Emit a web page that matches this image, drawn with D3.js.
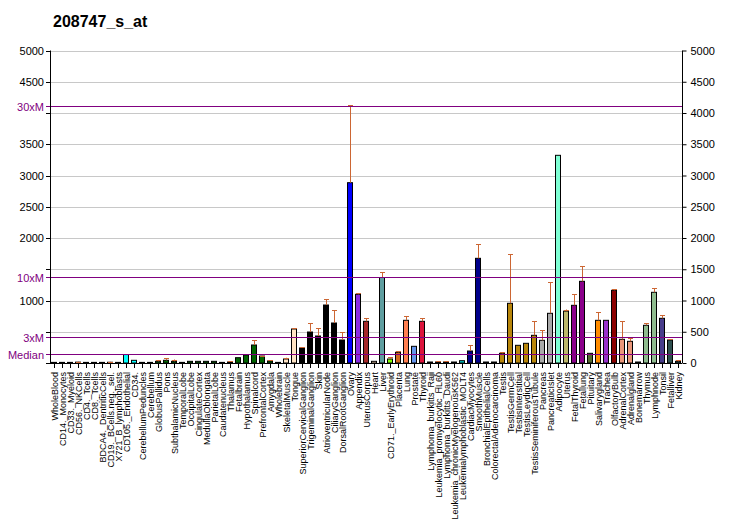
<!DOCTYPE html>
<html><head><meta charset="utf-8">
<script src="https://cdn.jsdelivr.net/npm/d3@7"></script>
<style>body{margin:0;background:#fff}svg{display:block}text{font-family:"Liberation Sans",Arial,sans-serif}</style>
</head><body>
<svg id="c" width="732" height="530"></svg>
<script>
const title = "208747_s_at";
const categories = ["WholeBlood","CD14._Monocytes","CD33._Myeloid","CD56._NKCells","CD4._Tcells","CD8._Tcells","BDCA4._DentriticCells","CD19._BCells.neg._sel.","X721_B_lymphoblasts","CD105._Endothelial","CD34.","CerebellumPeduncles","Cerebellum","GlobusPallidus","Pons","SubthalamicNucleus","TemporalLobe","OccipitalLobe","CingulateCortex","MedullaOblongata","ParietalLobe","Caudatenucleus","Thalamus","Fetalbrain","Hypothalamus","Spinalcord","PrefrontalCortex","Amygdala","Wholebrain","SkeletalMuscle","Tongue","SuperiorCervicalGanglion","TrigeminalGanglion","Skin","AtrioventricularNode","CiliaryGanglion","DorsalRootGanglion","Ovary","Appendix","UterusCorpus","Heart","Liver","CD71._EarlyErythroid","Placenta","Lung","Prostate","Thyroid","Lymphoma_burkitts_Raji","Leukemia_promyelocytic_HL60","Lymphoma_burkitts_Daudi","Leukemia_chronicMyelogenousK562","Leukemialymphoblastic_MOLT4","CardiacMyocytes","SmoothMuscle","BronchialEpithelialCells","ColorectalAdenocarcinoma","Testis","TestisGermCell","TestisInterstitial","TestisLeydigCell","TestisSeminiferousTubule","Pancreas","PancreaticIslet","Adipocyte","Uterus","FetalThyroid","Fetallung","Pituitary","Salivarygland","Trachea","OlfactoryBulb","AdrenalCortex","Adrenalgland","Bonemarrow","Thymus","Lymphnode","Tonsil","Fetalliver","Kidney"];
const values = [10,10,10,14,10,10,10,12,10,135,43,10,10,27,43,27,10,27,27,27,27,10,16,85,128,288,112,32,10,64,544,240,496,432,928,640,368,2885,1099,667,27,1368,64,171,683,267,667,16,16,16,16,37,192,1675,16,16,155,955,283,315,443,363,795,3323,830,923,1307,155,683,683,1163,379,347,16,603,1131,715,368,27];
const errTops = [null,null,null,22,null,null,null,20,null,null,null,null,null,45,75,56,null,null,null,null,null,null,24,null,null,368,120,43,null,84,555,251,640,555,1018,843,491,4123,1115,715,null,1451,91,190,747,null,715,null,27,27,null,null,283,1899,null,null,171,1739,null,null,667,523,1291,null,856,1099,1547,null,811,null,1179,667,395,null,635,1195,763,379,43];
const colors = ["#1a1a1a","#1a1a1a","#1a1a1a","#1a1a1a","#1a1a1a","#1a1a1a","#1a1a1a","#1a1a1a","#1a1a1a","#00FFFF","#00FFFF","#006400","#006400","#006400","#006400","#006400","#006400","#006400","#006400","#006400","#006400","#006400","#006400","#006400","#006400","#006400","#006400","#006400","#006400","#FFE4C4","#FFE4C4","#000000","#000000","#000000","#000000","#000000","#000000","#0000FF","#8A2BE2","#A52A2A","#FFDAB9","#5F9EA0","#7FFF00","#D2691E","#FF7F50","#6495ED","#DC143C","#1a1a1a","#1a1a1a","#1a1a1a","#1a1a1a","#00CED1","#00008B","#00008B","#1a1a1a","#1a1a1a","#B8860B","#B8860B","#B8860B","#B8860B","#B8860B","#A9A9A9","#A9A9A9","#7FFFD4","#BDB76B","#8B008B","#8B008B","#556B2F","#FF8C00","#9932CC","#8B0000","#E9967A","#E9967A","#2F4F4F","#8FBC8F","#8FBC8F","#483D8B","#2F4F4F","#2F4F4F"];
const rightTicks = [0,500,1000,1500,2000,2500,3000,3500,4000,4500,5000];
const leftTickLabels = [5000,4500,3500,3000,2500,2000,1000];
const median = 137;
const multiples = [{k:1,label:"Median"},{k:3,label:"3xM"},{k:10,label:"10xM"},{k:30,label:"30xM"}];

const svg = d3.select("#c");
const x = d3.scaleBand().domain(d3.range(categories.length)).range([50,682]).paddingInner(0.25).paddingOuter(0.125);
const y = d3.scaleLinear().domain([0,5000]).range([363,50.5]);
const L = 50, R = 682;

svg.append("text").attr("x",53).attr("y",27).attr("font-size",16).attr("font-weight","bold").attr("fill","#000").text(title);

// grid
svg.append("g").selectAll("line").data(rightTicks.filter(d=>d>0)).join("line")
  .attr("x1",L-4).attr("x2",R).attr("y1",d=>Math.round(y(d))+0.5).attr("y2",d=>Math.round(y(d))+0.5)
  .attr("stroke","#C8C8C8").attr("stroke-width",1);

// bars
const bw = x.bandwidth();
svg.append("g").selectAll("rect").data(values).join("rect")
  .attr("x",(d,i)=>Math.round(x(i))+0.5).attr("width",Math.round(bw)-1)
  .attr("y",d=>y(d)).attr("height",d=>y(0)-y(d))
  .attr("fill",(d,i)=>colors[i]).attr("stroke","#000").attr("stroke-width",1);

// error bars
const eg = svg.append("g").attr("stroke","#CC6633").attr("stroke-width",1);
errTops.forEach((e,i)=>{
  if(e==null) return;
  const cx = Math.round(x(i)+bw/2)+0.5;
  eg.append("line").attr("x1",cx).attr("x2",cx).attr("y1",y(values[i])).attr("y2",y(e));
  eg.append("line").attr("x1",cx-2.5).attr("x2",cx+2.5).attr("y1",Math.round(y(e))+0.5).attr("y2",Math.round(y(e))+0.5);
});

// median lines
multiples.forEach(m=>{
  const yy = Math.round(y(m.k*median))+0.5;
  svg.append("line").attr("x1",L-4).attr("x2",R).attr("y1",yy).attr("y2",yy).attr("stroke","#800080").attr("stroke-width",1);
  svg.append("text").attr("x",44).attr("y",yy+4).attr("text-anchor","end").attr("font-size",11).attr("fill","#800080").text(m.label);
});

// left axis
const la = svg.append("g");
la.append("line").attr("x1",L+0.5).attr("x2",L+0.5).attr("y1",y(5000)).attr("y2",y(0)).attr("stroke","#000");
la.selectAll("line.t").data(rightTicks).join("line").attr("class","t")
  .attr("x1",L-4).attr("x2",L).attr("y1",d=>Math.round(y(d))+0.5).attr("y2",d=>Math.round(y(d))+0.5).attr("stroke","#000");
la.selectAll("text").data(leftTickLabels).join("text")
  .attr("x",44).attr("y",d=>Math.round(y(d))+4).attr("text-anchor","end").attr("font-size",11).attr("fill","#000").text(d=>d);

// right axis
const ra = svg.append("g").attr("transform",`translate(${R+0.5},0)`);
ra.call(d3.axisRight(y).tickValues(rightTicks).tickSize(4).tickPadding(4).tickFormat(d3.format("d")));
ra.select(".domain").remove();
ra.append("line").attr("x1",0).attr("x2",0).attr("y1",y(5000)).attr("y2",y(0)).attr("stroke","#000");
ra.selectAll("text").attr("font-size",11).attr("font-family","Liberation Sans,Arial,sans-serif").attr("fill","#000");

// x axis
const xa = svg.append("g");
xa.append("line").attr("x1",L).attr("x2",R).attr("y1",363.5).attr("y2",363.5).attr("stroke","#000");
xa.selectAll("line.t").data(categories).join("line").attr("class","t")
  .attr("x1",(d,i)=>Math.round(x(i)+bw/2)+0.5).attr("x2",(d,i)=>Math.round(x(i)+bw/2)+0.5)
  .attr("y1",363).attr("y2",368).attr("stroke","#000");
xa.selectAll("text").data(categories).join("text")
  .attr("transform",(d,i)=>`translate(${Math.round(x(i)+bw/2)+3.5},372) rotate(-90)`)
  .attr("text-anchor","end").attr("font-size",9).attr("fill","#000").text(d=>d);
</script>
</body></html>
